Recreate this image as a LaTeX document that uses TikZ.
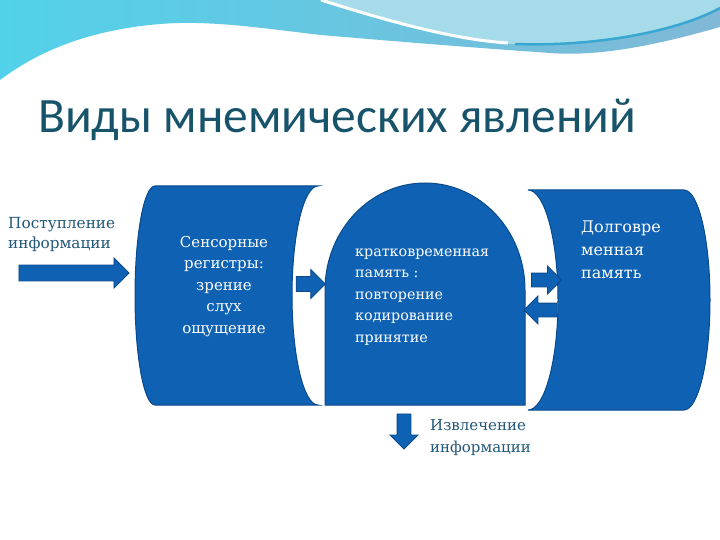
\documentclass[tikz,border=0pt]{standalone}
\usepackage{fontspec}
\setmainfont{DejaVu Serif}
\newfontfamily\titlefont{Carlito}
\usetikzlibrary{shapes.arrows}
\definecolor{boxblue}{HTML}{0F62B3}
\definecolor{boxedge}{HTML}{0A4A8C}
\definecolor{labcol}{HTML}{23587A}
\definecolor{titlecol}{HTML}{17536B}
\definecolor{wavecyan}{HTML}{52D2EA}
\definecolor{waveblue}{HTML}{80B8D6}
\definecolor{wavelight}{HTML}{A6DCEA}
\definecolor{wavestroke}{HTML}{3AA6D2}

\begin{document}
\begin{tikzpicture}[x=1pt,y=-1pt,
	blk/.style={fill=boxblue,draw=boxedge,line width=1pt},
	barrow/.style={single arrow,fill=boxblue,draw=boxedge,line width=0.8pt,
		inner sep=0pt,minimum width=28pt,single arrow head extend=7pt},
	intext/.style={text=white,inner sep=0pt,anchor=north},
	outtext/.style={text=labcol,inner sep=0pt,anchor=north west,align=left}]
	\useasboundingbox[fill=white] (0,0) rectangle (720,540);
	% top wave
	\shade[left color=wavecyan,right color=waveblue] (0,0) -- (720,0) -- (720,27)
		.. controls (640,50) and (590,56) .. (550,53)
		.. controls (450,46) and (380,40) .. (321,35)
		.. controls (260,28) and (210,20) .. (160,24)
		.. controls (90,30) and (40,50) .. (0,80) -- cycle;
	\fill[wavelight] (321,0) .. controls (400,25) and (460,40) .. (512,44)
		.. controls (600,48) and (680,30) .. (720,7) -- (720,0) -- cycle;
	\draw[white,line width=3pt] (321,0) .. controls (400,25) and (460,40) .. (508,43);
	\draw[wavestroke,line width=2.5pt] (515,44) .. controls (600,47) and (680,30) .. (720,8);
	% title
	\node[anchor=base west,inner sep=0pt,text=titlecol,font=\titlefont\fontsize{49.5}{52}\selectfont]
		(title) at (38,133) {Виды мнемических явлений};
	% blocks
	\draw[blk] (155,186) -- (318,186) arc[start angle=270,end angle=90,x radius=26,y radius=109.5]
		-- (155,405) arc[start angle=90,end angle=270,x radius=20,y radius=109.5] -- cycle;
	\draw[blk] (325,405) -- (325,290) arc[start angle=180,end angle=0,x radius=100,y radius=-107]
		-- (525,405) -- cycle;
	\draw[blk] (528,190) -- (684,190) arc[start angle=270,end angle=450,x radius=26,y radius=110]
		-- (528,410) arc[start angle=90,end angle=-90,x radius=30,y radius=110] -- cycle;
	% arrows
	\node[barrow,minimum height=110pt,minimum width=30pt,inner ysep=7.5pt] (ain) at (70,273) {};
	\node[barrow,minimum height=29pt,minimum width=29pt,inner ysep=7pt] (a12) at (307,284) {};
	\node[barrow,minimum height=30pt,minimum width=26pt,inner ysep=6.5pt] (a23) at (543,280) {};
	\node[barrow,minimum height=33pt,minimum width=26pt,inner ysep=6.5pt,shape border rotate=180] (a32) at (544,310) {};
	\node[barrow,minimum height=35pt,minimum width=25pt,inner xsep=6.5pt,shape border rotate=270] (aout) at (404,428) {};
	% texts
	\node[outtext,font=\fontsize{15.3}{20}\selectfont] (inlab) at (8,214)
		{\strut Поступление\\информации};
	\node[intext,align=center,font=\fontsize{15}{21.5}\selectfont] (sens) at (224,232)
		{\strut Сенсорные\\регистры:\\зрение\\слух\\ощущение};
	\node[intext,anchor=north west,align=left,font=\fontsize{14.3}{21.5}\selectfont] (kvp) at (355,241)
		{\strut кратковременная\\память :\\повторение\\кодирование\\принятие};
	\node[intext,anchor=north west,align=left,font=\fontsize{16}{23}\selectfont] (dvp) at (581,216)
		{\strut Долговре\\менная\\память};
	\node[outtext,font=\fontsize{15}{22}\selectfont] (outlab) at (430,415)
		{\strut Извлечение\\информации};
\end{tikzpicture}
\end{document}
